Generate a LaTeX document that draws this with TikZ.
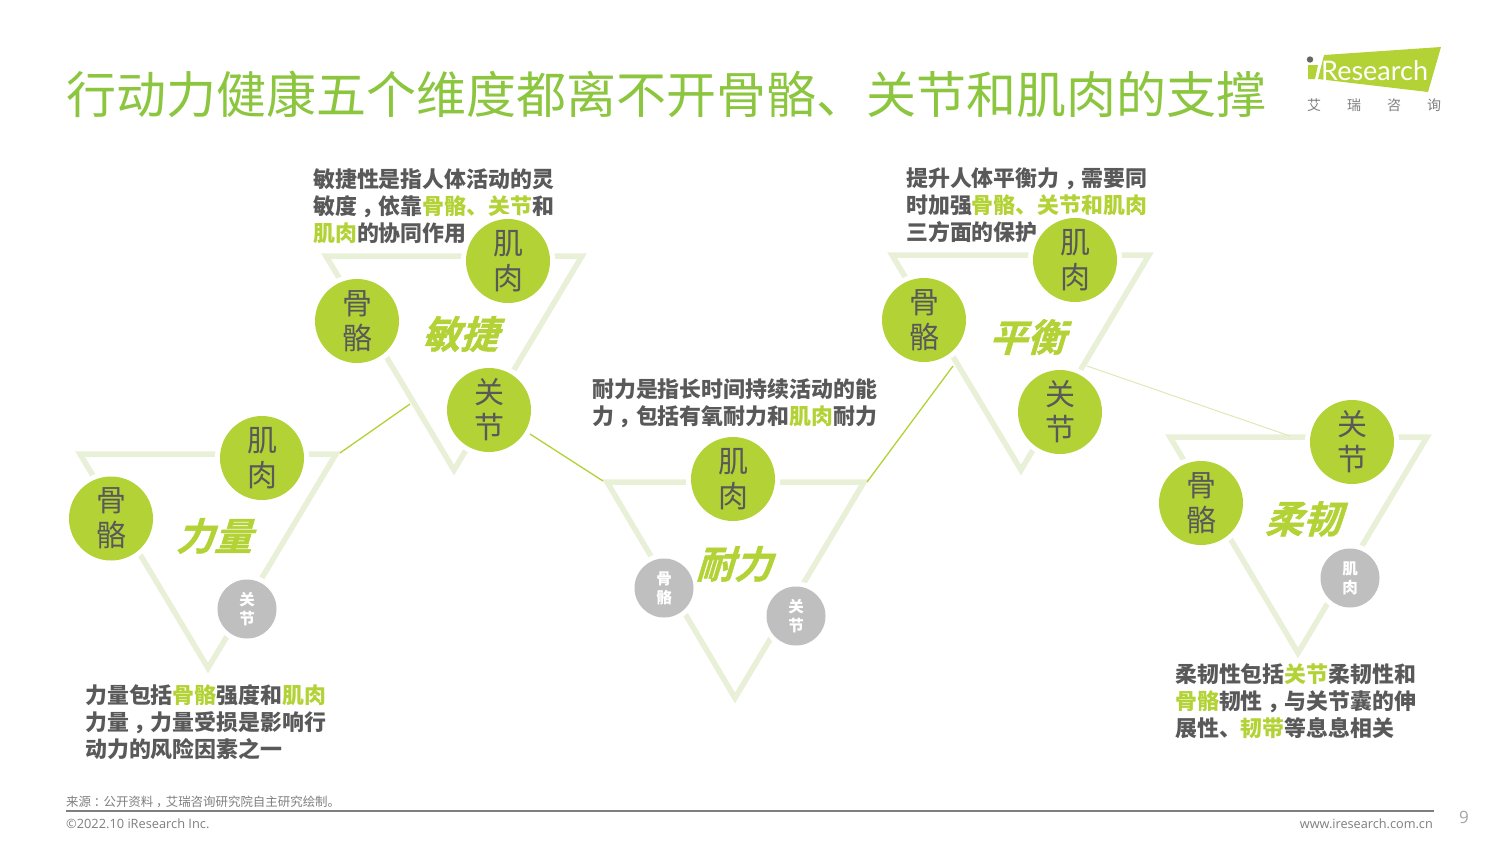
\documentclass[tikz,border=0pt]{standalone}
\usepackage{fontspec}
\setmainfont{Noto Sans CJK SC}
\newfontfamily\latinfont{Open Sans}
\newfontfamily\logofont{Lato}
\newfontfamily\slantfont[FakeSlant=0.3,FakeBold=1.2]{Noto Sans CJK SC Bold}
\definecolor{igreen}{HTML}{B2D235}
\definecolor{titlegreen}{HTML}{8CC63F}
\definecolor{tri}{HTML}{E8F0D8}
\definecolor{dark}{HTML}{595959}
\definecolor{midgray}{HTML}{7F7F7F}
\definecolor{ball}{HTML}{BFBFBF}
\newcommand{\hl}[1]{\textcolor{igreen}{#1}}
\newcommand{\cpunct}[1]{\kern.22em #1\kern-.22em }
\tikzset{
  x=1pt,y=-1pt,
  tribar/.style={draw=tri,line width=5.5pt,miter limit=10,line join=miter},
  link/.style={draw=igreen,line width=1.3pt},
  linklight/.style={draw=tri!80!igreen,line width=1pt},
  bigball/.style={circle,fill=igreen,preaction={draw=white,line width=10pt},minimum size=84pt,inner sep=0pt,text=dark,align=center,font=\fontsize{30}{35}\selectfont,execute at begin node={\rule{0pt}{34pt}}},
  smallball/.style={circle,fill=ball,preaction={draw=white,line width=10pt},minimum size=59pt,inner sep=0pt,text=white,align=center,font=\fontsize{15.5}{19}\selectfont\bfseries,execute at begin node={\rule{0pt}{18pt}}},
  dim/.style={text=igreen,inner sep=0pt,font=\fontsize{38}{40}\slantfont},
  body/.style={anchor=west,inner sep=0pt,align=left,text=dark,font=\fontsize{21.9}{27}\selectfont\bfseries},
  foot/.style={inner sep=0pt,text=midgray,font=\fontsize{12.45}{14}\selectfont},
  logochar/.style={inner sep=0pt,text=midgray,font=\fontsize{14}{16}\selectfont}
}
\begin{document}
\begin{tikzpicture}
\useasboundingbox (0,0) rectangle (1500,844);
\fill[white] (0,0) rectangle (1500,844);
% triangle corners
\coordinate (a1) at (80,454); \coordinate (a2) at (336,454); \coordinate (a3) at (208,668);
\coordinate (b1) at (326,256); \coordinate (b2) at (582,256); \coordinate (b3) at (454,470);
\coordinate (c1) at (607,482); \coordinate (c2) at (864,482); \coordinate (c3) at (735,698);
\coordinate (d1) at (892,255); \coordinate (d2) at (1149,255); \coordinate (d3) at (1021,470);
\coordinate (e1) at (1170,437); \coordinate (e2) at (1427,437); \coordinate (e3) at (1298,653);
% connector ends
\coordinate (l0) at (340,453); \coordinate (l1) at (410,404); \coordinate (l2) at (530,434);
\coordinate (l6) at (603,481); \coordinate (l7) at (867,482);
\coordinate (l3) at (953,366); \coordinate (l4) at (1087,366); \coordinate (l5) at (1290,436);
\draw[tribar] (a1)--(a2)--(a3)--cycle;
\draw[tribar] (b1)--(b2)--(b3)--cycle;
\draw[tribar] (c1)--(c2)--(c3)--cycle;
\draw[tribar] (d1)--(d2)--(d3)--cycle;
\draw[tribar] (e1)--(e2)--(e3)--cycle;
\draw[link] (l0)--(l1);
\draw[link] (l2)--(l6);
\draw[link] (l7)--(l3);
\draw[linklight] (l4)--(l5);
% title and logo
\node[anchor=west,inner sep=0pt,text=titlegreen,font=\fontsize{50}{56}\selectfont] (title) at (66,94) {行动力健康五个维度都离不开骨骼、关节和肌肉的支撑};
\fill[igreen] (1324,55)--(1441,47)--(1428,92)--(1318,79)--cycle;
\fill[igreen] (1308,65)--(1318,65)--(1315,79)--(1308,79)--cycle;
\fill[midgray!80!black] (1310,59.5) circle (3.2);
\node[anchor=west,inner sep=0pt,text=white,font=\fontsize{27}{30}\logofont] (logo) at (1321,71) {Research};
\node[logochar] (l1c) at (1314,105.5) {艾};
\node[logochar] (l2c) at (1354,105.5) {瑞};
\node[logochar] (l3c) at (1394,105.5) {咨};
\node[logochar] (l4c) at (1434,105.5) {询};
% body texts
\node[body] (tb) at (313,206) {敏捷性是指人体活动的灵\\敏度\cpunct{，}依靠\hl{骨骼、关节}和\\\hl{肌肉}的协同作用};
\node[body] (ta) at (85,722) {力量包括\hl{骨骼}强度和\hl{肌肉}\\力量\cpunct{，}力量受损是影响行\\动力的风险因素之一};
\node[body] (tc) at (592,403.5) {耐力是指长时间持续活动的能\\力\cpunct{，}包括有氧耐力和\hl{肌肉}耐力};
\node[body] (td) at (906,205) {提升人体平衡力\cpunct{，}需要同\\时加强\hl{骨骼、关节和肌肉}\\三方面的保护};
\node[body] (te) at (1175,701) {柔韧性包括\hl{关节}柔韧性和\\\hl{骨骼}韧性\cpunct{，}与关节囊的伸\\展性、\hl{韧带}等息息相关};
% balls
\node[bigball] (a-g) at (111,518.5) {骨\\骼};
\node[bigball] (a-j) at (262,458) {肌\\肉};
\node[smallball] (a-k) at (247,609) {关\\节};
\node[bigball] (b-g) at (357,321) {骨\\骼};
\node[bigball] (b-j) at (508,261) {肌\\肉};
\node[bigball] (b-k) at (489,410) {关\\节};
\node[bigball] (c-j) at (733,479) {肌\\肉};
\node[smallball] (c-g) at (664,588) {骨\\骼};
\node[smallball] (c-k) at (796,616) {关\\节};
\node[bigball] (d-g) at (924,320) {骨\\骼};
\node[bigball] (d-j) at (1075,260) {肌\\肉};
\node[bigball] (d-k) at (1060,412) {关\\节};
\node[bigball] (e-g) at (1201,503) {骨\\骼};
\node[bigball] (e-k) at (1352,442) {关\\节};
\node[smallball] (e-j) at (1350,578) {肌\\肉};
% dimension names
\node[dim] (na) at (214,536) {力量};
\node[dim] (nb) at (460,334) {敏捷};
\node[dim] (nc) at (734,564) {耐力};
\node[dim] (nd) at (1027,337) {平衡};
\node[dim] (ne) at (1303,519) {柔韧};
% footer
\draw[draw=midgray,line width=1.8pt] (66,811) coordinate (r1) -- (1434,811) coordinate (r2);
\node[foot,anchor=west] (src) at (66,802) {来源\cpunct{：}公开资料\cpunct{，}艾瑞咨询研究院自主研究绘制。};
\node[foot,anchor=west,font=\fontsize{12.8}{14}\latinfont] (cp) at (66,823.5) {©2022.10 iResearch Inc.};
\node[foot,anchor=east,font=\fontsize{12.7}{14}\latinfont] (url) at (1433,823.5) {www.iresearch.com.cn};
\node[foot,font=\fontsize{17}{20}\latinfont,text=midgray!70] (pg) at (1464,817) {9};
\end{tikzpicture}
\end{document}
